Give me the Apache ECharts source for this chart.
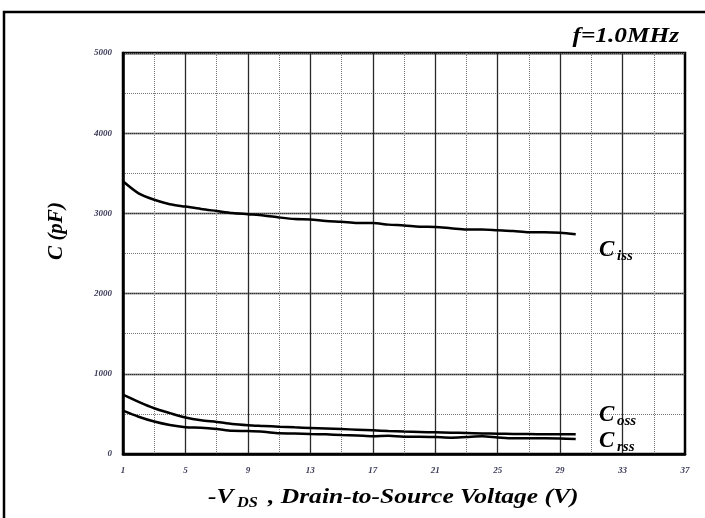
<!DOCTYPE html>
<html>
<head>
<meta charset="utf-8">
<script src="https://cdn.jsdelivr.net/npm/echarts@6/dist/echarts.min.js"></script>
<style>html,body{margin:0;padding:0;background:#fff}#c{width:705px;height:518px}</style>
</head>
<body>
<div id="c"></div>
<script>
// Data
var vds  = [1,2,3,4,5,6,7,8,9,10,11,12,13,14,15,16,17,18,19,20,21,22,23,24,25,26,27,28,29,30];
var ciss = [3400,3250,3170,3115,3085,3055,3030,3005,2990,2975,2950,2930,2925,2905,2895,2880,2880,2860,2850,2835,2830,2815,2800,2800,2790,2780,2765,2765,2760,2740];
var coss = [740,650,570,510,455,420,400,375,360,350,340,332,325,318,311,303,295,287,280,275,270,265,262,257,253,250,248,246,245,245];
var crss = [540,465,405,362,335,328,312,290,287,278,258,256,250,245,238,232,222,228,216,216,212,204,212,220,207,196,195,195,194,187];
var xLabelValues = [1,5,9,13,17,21,25,29,33,37];
var xMajorGrid = [5,9,13,17,21,25,29,33];
var xMinorGrid = [3,7,11,15,19,23,27,31,35];

var serif = '"Liberation Serif","DejaVu Serif",serif';
function pts(ys){ return vds.map(function(v,i){ return [v, ys[i]]; }); }
function lineSeries(name, ys){
  return {name:name, type:'line', data:pts(ys), showSymbol:false, smooth:0.3,
    lineStyle:{color:'#000', width:2.5}, z:5};
}
var tickFont = {fontFamily:serif, fontStyle:'italic', fontWeight:'bold', fontSize:9, color:'#3a3a58'};
function txt(x,y,t,size,align,sx){
  return {type:'text', x:x, y:y, scaleX:sx||1, z:10,
    style:{text:t, font:'italic bold '+size+'px '+serif, fill:'#000', textAlign:align||'left', textVerticalAlign:'middle'}};
}

var chart = echarts.init(document.getElementById('c'), null, {renderer:'canvas'});
chart.setOption({
  animation:false,
  backgroundColor:'#fff',
  grid:{left:123, top:53, right:20, bottom:64, show:true, borderColor:'#000', borderWidth:2.5, containLabel:false},
  xAxis:[
    {type:'value', min:1, max:37, position:'bottom',
     axisLine:{show:true, lineStyle:{color:'#000', width:2.5}},
     axisTick:{show:false, customValues:xMajorGrid},
     axisLabel:Object.assign({customValues:xLabelValues, margin:12, formatter:function(v){return String(v);}}, tickFont),
     splitLine:{show:true, lineStyle:{color:'#2a2a2a', width:1.3, type:'solid'}}},
    {type:'value', min:1, max:37, position:'bottom',
     axisLine:{show:false}, axisTick:{show:false, customValues:xMinorGrid}, axisLabel:{show:false},
     splitLine:{show:true, lineStyle:{color:'#777', width:1, type:'dotted'}}}
  ],
  yAxis:[
    {type:'value', min:0, max:5000, interval:1000,
     axisLine:{show:true, lineStyle:{color:'#000', width:2.5}},
     axisTick:{show:false},
     axisLabel:Object.assign({margin:11, formatter:function(v){return String(v);}}, tickFont),
     splitLine:{show:true, lineStyle:{color:'#2a2a2a', width:1.3}}},
    {type:'value', min:0, max:5000, interval:500, position:'left',
     axisLine:{show:false}, axisTick:{show:false}, axisLabel:{show:false},
     splitLine:{show:true, lineStyle:{color:'#777', width:1, type:'dotted'}}}
  ],
  series:[lineSeries('Ciss', ciss), lineSeries('Coss', coss), lineSeries('Crss', crss)],
  graphic:[
    {type:'rect', shape:{x:4, y:12, width:730, height:540}, style:{fill:'none', stroke:'#000', lineWidth:2.5}, z:20},
    txt(679, 36, 'f=1.0MHz', 22, 'right', 1.15),
    {type:'text', x:57, y:231, rotation:Math.PI/2, z:10,
     style:{text:'C (pF)', font:'italic bold 21px '+serif, fill:'#000', textAlign:'center', textVerticalAlign:'middle'}},
    txt(208, 497, '-V', 22, 'left', 1.16),
    txt(237, 503, 'DS', 14, 'left', 1.16),
    txt(268, 497, ', Drain-to-Source Voltage (V)', 22, 'left', 1.16),
    txt(599, 250, 'C', 23, 'left'),
    txt(617, 256, 'iss', 15, 'left'),
    txt(599, 415, 'C', 23, 'left'),
    txt(617, 421, 'oss', 15, 'left'),
    txt(599, 441, 'C', 23, 'left'),
    txt(617, 447, 'rss', 15, 'left')
  ]
});
</script>
</body>
</html>
